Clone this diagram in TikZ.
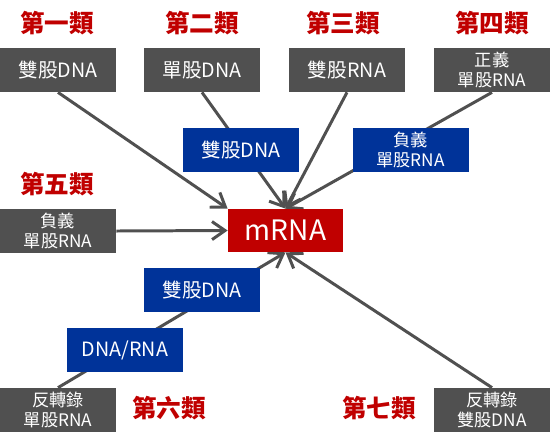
\documentclass[tikz,border=0pt]{standalone}
\usepackage{fontspec}
\setmainfont{Noto Sans CJK TC}
\usetikzlibrary{arrows.meta,backgrounds}
\definecolor{darkgray}{RGB}{80,80,80}
\definecolor{navy}{RGB}{0,51,153}
\definecolor{crimson}{RGB}{192,0,0}

\begin{document}
\begin{tikzpicture}[every node/.style={align=center},
  grupo/.style={font=\fontsize{14}{15}\selectfont\bfseries, text=crimson},
  gris/.style={fill=darkgray, text=white, minimum width=2.32cm, minimum height=0.88cm, inner sep=0pt, font=\fontsize{11.2}{12}\selectfont},
  azul/.style={fill=navy, text=white, minimum width=2.32cm, minimum height=0.88cm, inner sep=0pt, font=\fontsize{11.2}{12}\selectfont},
  dos/.style={font=\fontsize{9.8}{11.2}\selectfont},
  flecha/.style={-{Straight Barb[length=2.6mm,width=3.6mm,line width=1.7pt]}, line width=1.7pt, darkgray}]
\useasboundingbox (0,0) rectangle (11,-8.82);
% titulos
\node[grupo] (t1) at (1.14,-0.46) {第一類};
\node[grupo] (t2) at (4.04,-0.46) {第二類};
\node[grupo] (t3) at (6.86,-0.46) {第三類};
\node[grupo] (t4) at (9.84,-0.46) {第四類};
\node[grupo] (t5) at (1.14,-3.68) {第五類};
\node[grupo] (t6) at (3.38,-8.16) {第六類};
\node[grupo] (t7) at (7.58,-8.16) {第七類};
% genomas
\node[gris] (g1) at (1.16,-1.40) {雙股DNA};
\node[gris] (g2) at (4.04,-1.40) {單股DNA};
\node[gris] (g3) at (6.94,-1.40) {雙股RNA};
\node[gris, dos] (g4) at (9.84,-1.40) {正義\\單股RNA};
\node[gris, dos] (g5) at (1.16,-4.62) {負義\\單股RNA};
\node[gris, dos] (g6) at (1.16,-8.20) {反轉錄\\單股RNA};
\node[gris, dos] (g7) at (9.84,-8.20) {反轉錄\\雙股DNA};
% intermedios
\node[azul] (b1) at (4.82,-3.00) {雙股DNA};
\node[azul, dos] (b2) at (8.21,-3.00) {負義\\單股RNA};
\node[azul] (b3) at (4.04,-5.80) {雙股DNA};
\node[azul] (b4) at (2.50,-7.00) {DNA/RNA};
\node[fill=crimson, text=white, minimum width=2.30cm, minimum height=0.86cm, inner sep=0pt, font=\fontsize{16}{17}\selectfont] (m) at (5.71,-4.61) {mRNA};
% flechas
\begin{scope}[on background layer]
\draw[flecha] (g1.south) -- (m.north west);
\draw[flecha] (g2.south) -- (m.north);
\draw[flecha] (g3.south) -- (m.north);
\draw[flecha] (g4.south) -- (m.north);
\draw[flecha] (g5.east) -- (m.west);
\draw[flecha] (g6.north) -- (m.south);
\draw[flecha] (g7.north) -- (m.south);
\end{scope}
\end{tikzpicture}
\end{document}
